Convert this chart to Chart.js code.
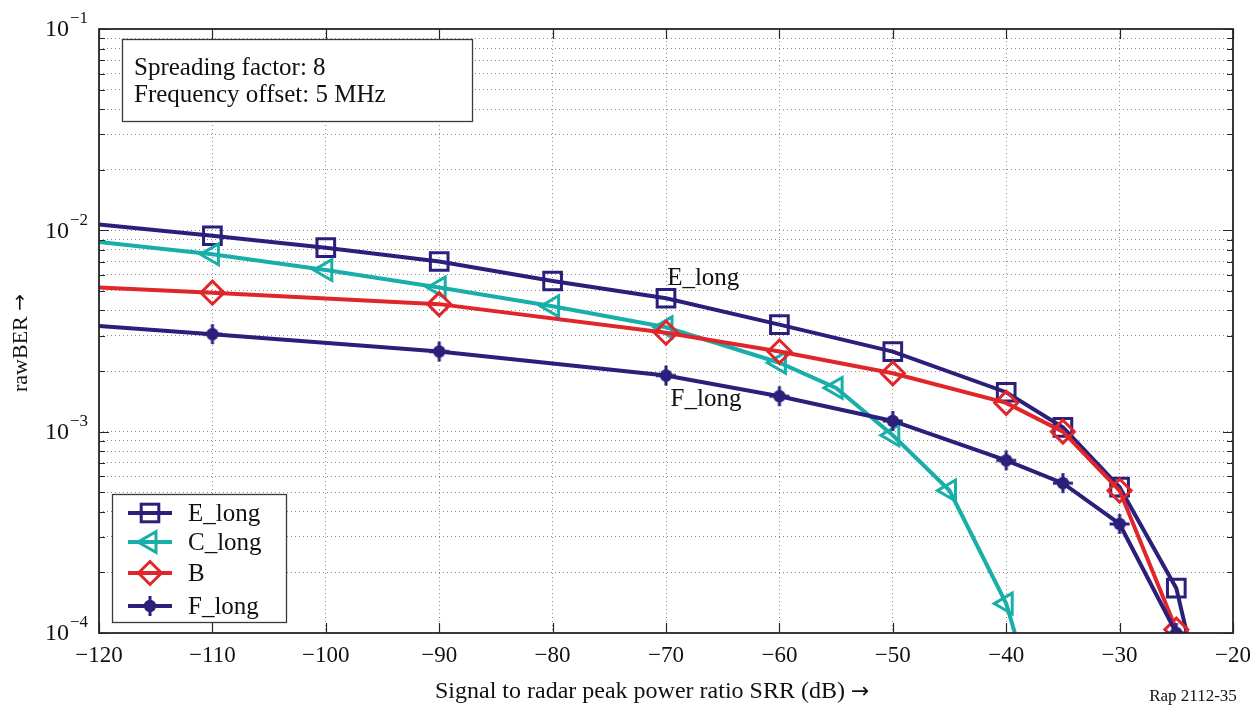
<!DOCTYPE html>
<html lang="en">
<head>
    <meta charset="UTF-8">
    <title>rawBER vs SRR</title>
    <script src="https://cdn.jsdelivr.net/npm/chart.js"></script>
    <style>
        body { margin: 0; background: #fff; }
    </style>
</head>
<body>
<canvas id="berChart" width="1256" height="711"></canvas>

<script>
    // measured curves, x = SRR (dB), y = raw BER
    const eLongX = [-120, -110, -100, -90, -80, -70, -60, -50, -40, -35, -30, -25, -24];
    const eLongY = [0.0107, 0.0094, 0.0082, 0.0070, 0.0056, 0.0046, 0.0034, 0.0025, 0.00157, 0.00105, 0.00053, 0.000167, 0.000096];

    const cLongX = [-120, -110, -100, -90, -80, -70, -60, -55, -50, -45, -40, -39];
    const cLongY = [0.00875, 0.0076, 0.00635, 0.0052, 0.0042, 0.0033, 0.0022, 0.00165, 0.00096, 0.00051, 0.00014, 0.00009];

    const bX = [-120, -110, -90, -70, -60, -50, -40, -35, -30, -25];
    const bY = [0.0052, 0.0049, 0.0043, 0.0031, 0.0025, 0.00195, 0.00139, 0.001, 0.00051, 0.000104];

    const fLongX = [-120, -110, -90, -70, -60, -50, -40, -35, -30, -25];
    const fLongY = [0.00335, 0.00305, 0.0025, 0.0019, 0.0015, 0.00113, 0.00072, 0.000555, 0.000348, 0.0001];

    const xTicks = [-120, -110, -100, -90, -80, -70, -60, -50, -40, -30, -20];
    const yDecades = [1e-4, 1e-3, 1e-2, 1e-1];
    const yDecadeLabels = ['\u22124', '\u22123', '\u22122', '\u22121'];

    const seriesNames = ['E_long', 'C_long', 'B', 'F_long'];

    const NAVY = '#2a1f7a';
    const TEAL = '#18aeaa';
    const RED = '#e0262a';
    const SERIF = '"Liberation Serif", "DejaVu Serif", serif';
    const ARROW_FONT = '"DejaVu Sans", sans-serif';

    // minor grid values for the log axis: 1..9 x 10^k
    const yGrid = [];
    for (let k = -4; k <= -2; k++) {
        for (let m = 1; m <= 9; m++) yGrid.push(m * Math.pow(10, k));
    }
    yGrid.push(0.1);

    function pairs(xs, ys) {
        return xs.map((x, i) => ({x: x, y: ys[i]}));
    }

    // filled dot with a plus through it, for F_long
    const plusDot = document.createElement('canvas');
    plusDot.width = 22;
    plusDot.height = 22;
    (function () {
        const c = plusDot.getContext('2d');
        c.fillStyle = NAVY;
        c.fillRect(9.5, 1, 3, 20);
        c.fillRect(1, 9.5, 20, 3);
        c.beginPath();
        c.arc(11, 11, 6.2, 0, Math.PI * 2);
        c.fill();
    })();

    function markerRadius(r) {
        return function (ctx) {
            const p = ctx.raw;
            if (!p || p.x <= -120 || p.y < 0.99e-4) return 0;
            return r;
        };
    }

    function makeSet(name, xs, ys, color, style, r, rotation, order) {
        return {
            label: name,
            data: pairs(xs, ys),
            borderColor: color,
            borderWidth: 4,
            pointStyle: style,
            rotation: rotation,
            pointRadius: markerRadius(r),
            pointBorderColor: color,
            pointBackgroundColor: 'rgba(0,0,0,0)',
            pointBorderWidth: 3,
            tension: 0,
            order: order
        };
    }

    const datasets = [
        makeSet(seriesNames[0], eLongX, eLongY, NAVY, 'rect', 12.5, 0, 4),
        makeSet(seriesNames[1], cLongX, cLongY, TEAL, 'triangle', 12, -90, 3),
        makeSet(seriesNames[2], bX, bY, RED, 'rectRot', 11.5, 0, 2),
        makeSet(seriesNames[3], fLongX, fLongY, NAVY, plusDot, 9, 0, 1)
    ];

    // small marker painter for the legend box
    function legendMarker(ctx, i, x, y) {
        ctx.save();
        ctx.lineWidth = 3;
        if (i === 0) {
            ctx.strokeStyle = NAVY;
            ctx.strokeRect(x - 8.8, y - 8.8, 17.6, 17.6);
        } else if (i === 1) {
            const r = 12;
            ctx.strokeStyle = TEAL;
            ctx.beginPath();
            ctx.moveTo(x - r, y);
            ctx.lineTo(x + r / 2, y - r * 0.866);
            ctx.lineTo(x + r / 2, y + r * 0.866);
            ctx.closePath();
            ctx.stroke();
        } else if (i === 2) {
            const r = 11.5;
            ctx.strokeStyle = RED;
            ctx.beginPath();
            ctx.moveTo(x, y - r);
            ctx.lineTo(x + r, y);
            ctx.lineTo(x, y + r);
            ctx.lineTo(x - r, y);
            ctx.closePath();
            ctx.stroke();
        } else {
            ctx.drawImage(plusDot, x - 11, y - 11);
        }
        ctx.restore();
    }

    const frameAndText = {
        id: 'frameAndText',
        afterDatasetsDraw(chart) {
            const ctx = chart.ctx;
            const a = chart.chartArea;
            const xs = chart.scales.x;
            const ys = chart.scales.y;
            ctx.save();

            // frame and inward ticks
            ctx.strokeStyle = '#262626';
            ctx.lineWidth = 1.8;
            ctx.strokeRect(a.left, a.top, a.right - a.left, a.bottom - a.top);
            ctx.lineWidth = 1.2;
            ctx.beginPath();
            xTicks.forEach(v => {
                const px = Math.round(xs.getPixelForValue(v)) + 0.5;
                ctx.moveTo(px, a.bottom); ctx.lineTo(px, a.bottom - 10);
                ctx.moveTo(px, a.top); ctx.lineTo(px, a.top + 10);
            });
            yGrid.forEach(v => {
                const py = Math.round(ys.getPixelForValue(v)) + 0.5;
                const len = yDecades.includes(v) ? 10 : 6;
                ctx.moveTo(a.left, py); ctx.lineTo(a.left + len, py);
                ctx.moveTo(a.right, py); ctx.lineTo(a.right - len, py);
            });
            ctx.stroke();

            // tick labels
            ctx.fillStyle = '#111';
            ctx.font = '23px ' + SERIF;
            ctx.textAlign = 'center';
            ctx.textBaseline = 'middle';
            xTicks.forEach(v => {
                ctx.fillText(v < 0 ? '\u2212' + Math.abs(v) : String(v), xs.getPixelForValue(v), a.bottom + 23);
            });
            yDecades.forEach((v, i) => {
                const py = ys.getPixelForValue(v);
                ctx.font = '24px ' + SERIF;
                ctx.textAlign = 'right';
                ctx.fillText('10', 69, py + 1);
                ctx.font = '17px ' + SERIF;
                ctx.textAlign = 'left';
                ctx.fillText(yDecadeLabels[i], 70, py - 10);
            });

            // axis titles
            ctx.font = '24px ' + SERIF;
            ctx.textAlign = 'left';
            const xTitle = 'Signal to radar peak power ratio SRR (dB) ';
            const xTitleW = ctx.measureText(xTitle).width;
            ctx.fillText(xTitle, 435, 692);
            ctx.font = '22px ' + ARROW_FONT;
            ctx.fillText('\u2192', 435 + xTitleW, 692);
            ctx.font = '17px ' + SERIF;
            ctx.textAlign = 'center';
            ctx.fillText('Rap 2112-35', 1193, 697);
            ctx.save();
            ctx.translate(21, 392);
            ctx.rotate(-Math.PI / 2);
            ctx.font = '22px ' + SERIF;
            ctx.textAlign = 'left';
            const yTitle = 'rawBER ';
            ctx.fillText(yTitle, 0, 0);
            const yTitleW = ctx.measureText(yTitle).width;
            ctx.font = '20px ' + ARROW_FONT;
            ctx.fillText('\u2192', yTitleW, 0);
            ctx.restore();

            // curve labels
            ctx.font = '25px ' + SERIF;
            ctx.textAlign = 'left';
            ctx.fillText('E_long', xs.getPixelForValue(-69.9), ys.getPixelForValue(0.0058));
            ctx.fillText('F_long', xs.getPixelForValue(-69.6), ys.getPixelForValue(0.00144));

            // parameter box
            ctx.fillStyle = '#fff';
            ctx.fillRect(122, 39, 351, 83);
            ctx.strokeStyle = '#3a3a3a';
            ctx.lineWidth = 1.3;
            ctx.strokeRect(122.5, 39.5, 350, 82);
            ctx.fillStyle = '#111';
            ctx.font = '25px ' + SERIF;
            ctx.fillText('Spreading factor: 8', 134, 68);
            ctx.fillText('Frequency offset: 5 MHz', 134, 95);

            // legend
            ctx.fillStyle = '#fff';
            ctx.fillRect(112, 494, 175, 129);
            ctx.strokeRect(112.5, 494.5, 174, 128);
            const rows = [513, 542, 573, 606];
            const colors = [NAVY, TEAL, RED, NAVY];
            rows.forEach((ry, i) => {
                ctx.strokeStyle = colors[i];
                ctx.lineWidth = 4;
                ctx.beginPath();
                ctx.moveTo(128, ry);
                ctx.lineTo(172, ry);
                ctx.stroke();
                legendMarker(ctx, i, 150, ry);
                ctx.fillStyle = '#111';
                ctx.fillText(seriesNames[i], 188, ry + 1);
            });

            ctx.restore();
        }
    };

    new Chart(document.getElementById('berChart'), {
        type: 'line',
        data: {datasets: datasets},
        options: {
            responsive: false,
            animation: false,
            layout: {padding: {left: 99, right: 23, top: 29, bottom: 78}},
            plugins: {legend: {display: false}, tooltip: {enabled: false}},
            scales: {
                x: {
                    type: 'linear',
                    min: -120,
                    max: -20,
                    afterBuildTicks: s => { s.ticks = xTicks.map(v => ({value: v})); },
                    afterFit: s => { s.height = 0; },
                    ticks: {display: false},
                    grid: {color: '#8c8c8c', lineWidth: 1, drawTicks: false},
                    border: {display: false, dash: [1, 3]}
                },
                y: {
                    type: 'logarithmic',
                    min: 1e-4,
                    max: 1e-1,
                    afterBuildTicks: s => { s.ticks = yGrid.map(v => ({value: v})); },
                    afterFit: s => { s.width = 0; },
                    ticks: {display: false},
                    grid: {color: '#8c8c8c', lineWidth: 1, drawTicks: false},
                    border: {display: false, dash: [1, 3]}
                }
            }
        },
        plugins: [frameAndText]
    });
</script>
</body>
</html>
